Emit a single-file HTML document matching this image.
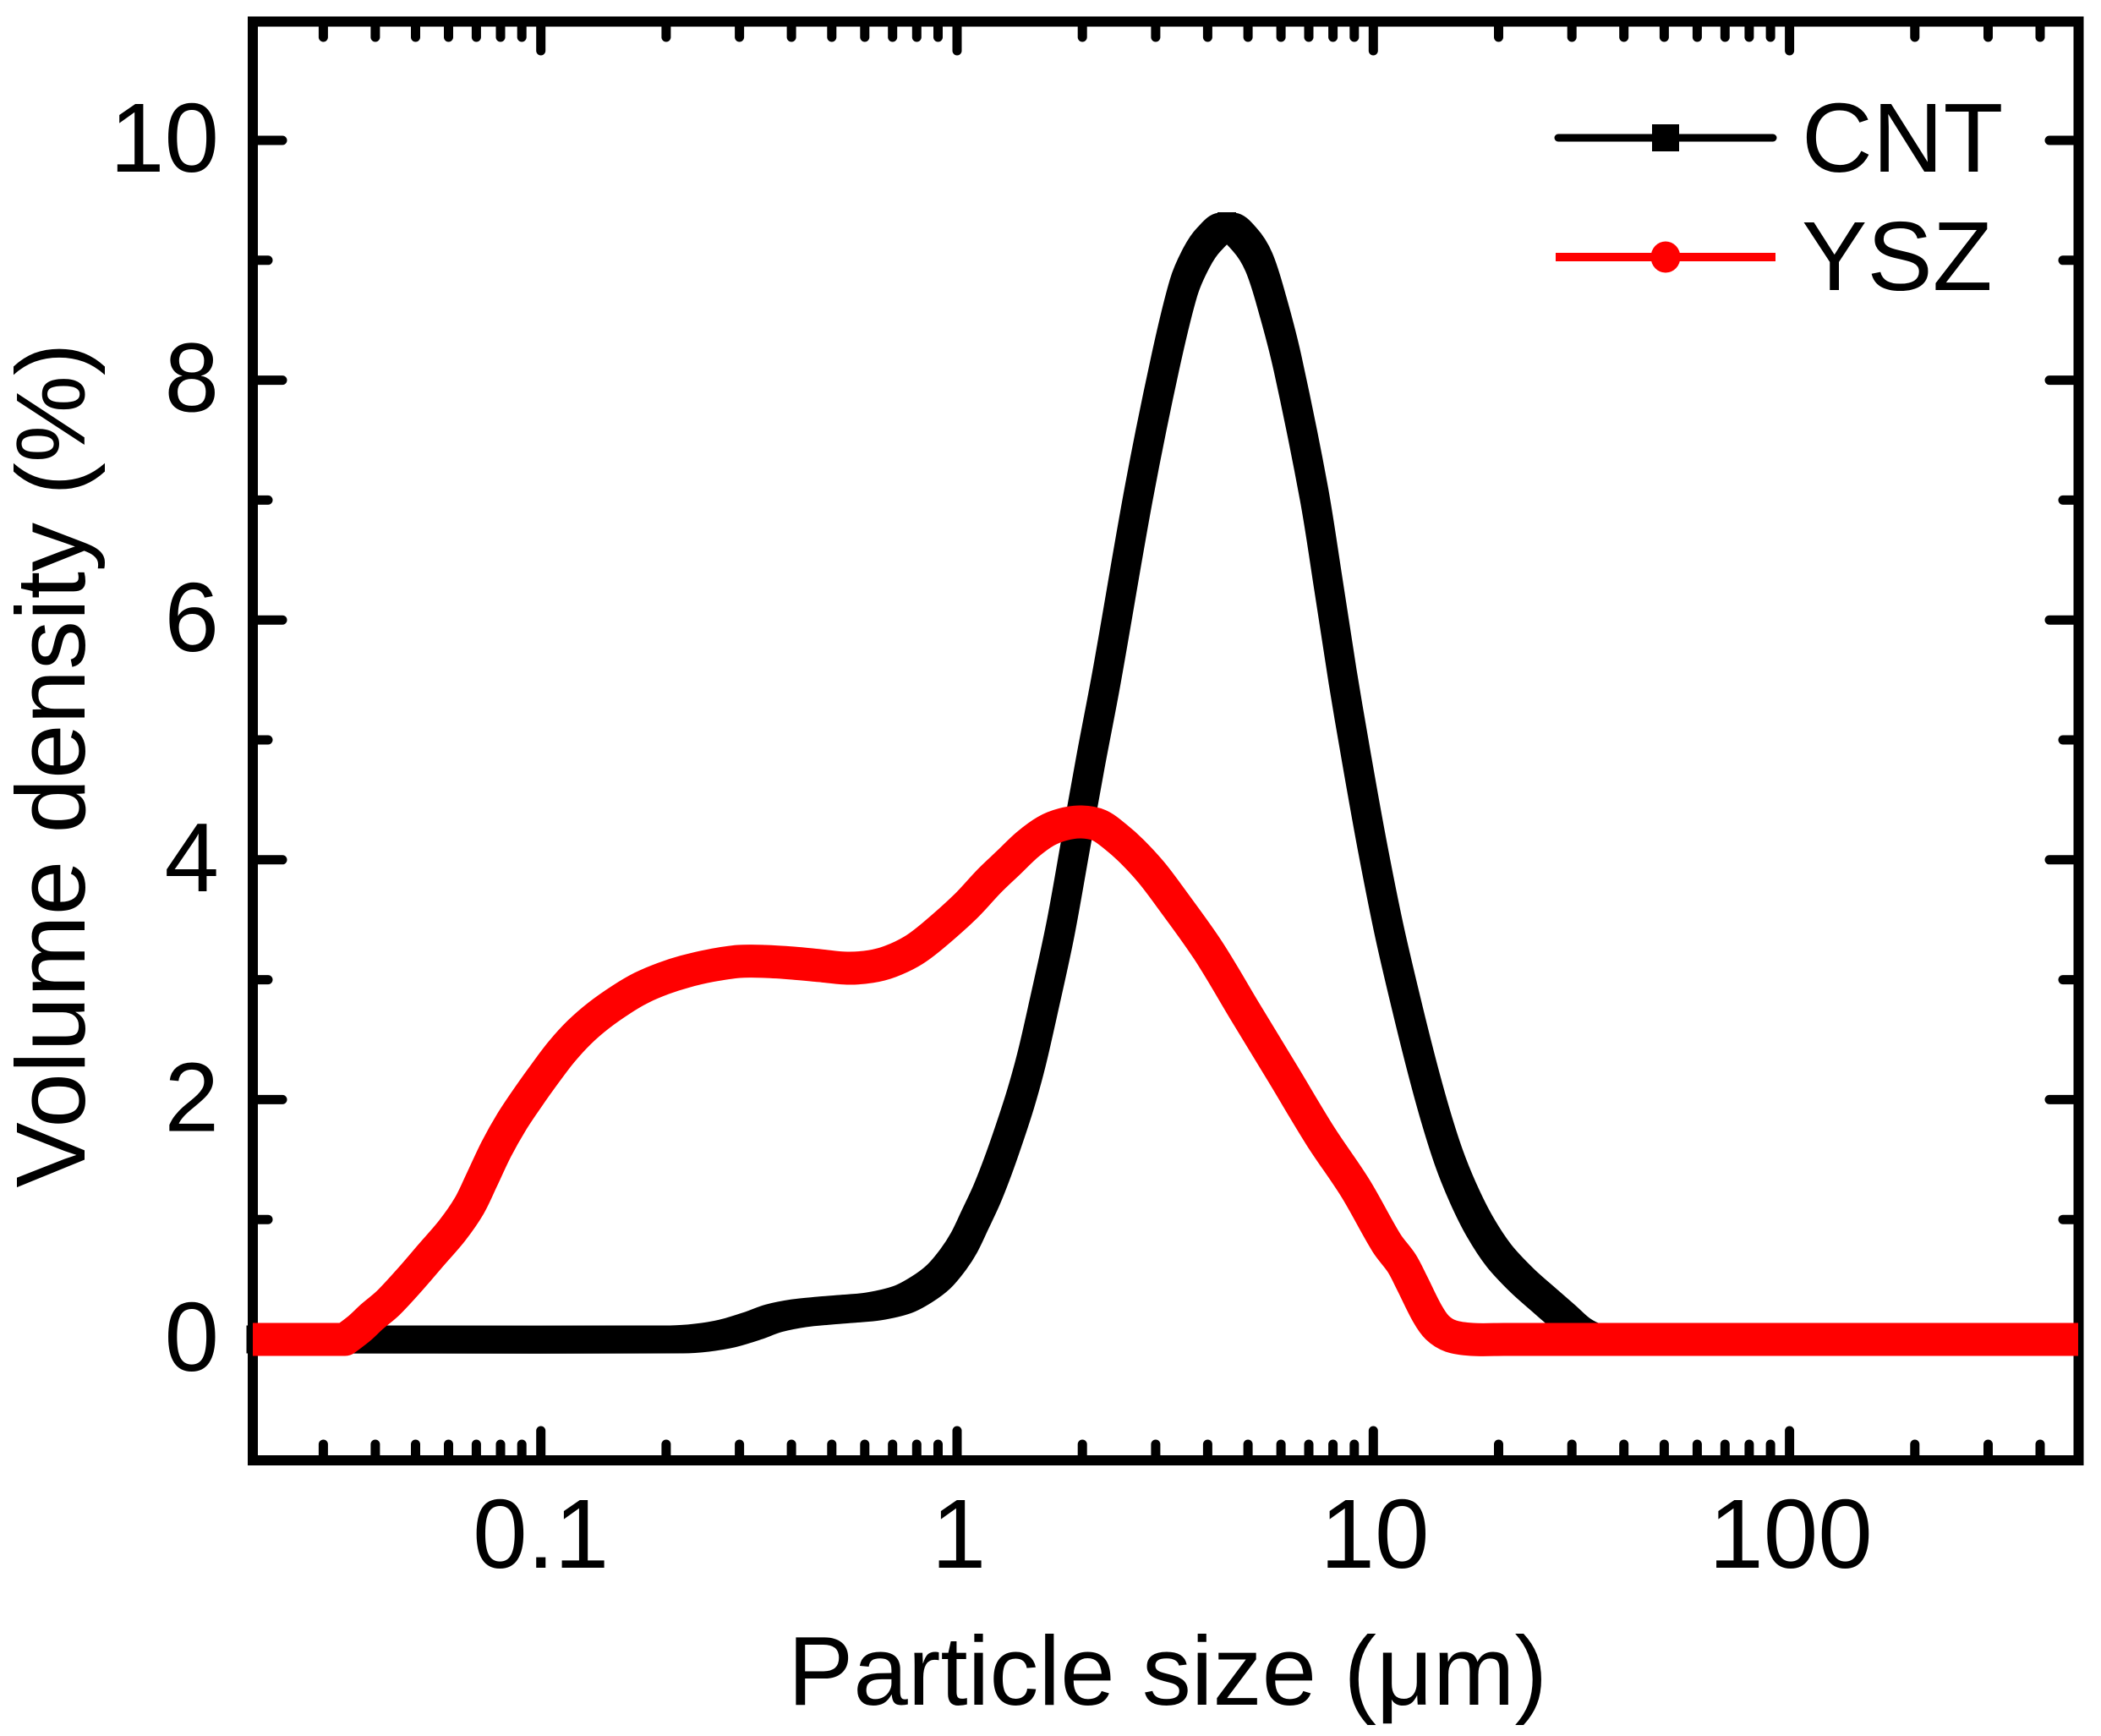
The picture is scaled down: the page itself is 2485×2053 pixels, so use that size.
<!DOCTYPE html>
<html>
<head>
<meta charset="utf-8">
<style>
  html, body { margin: 0; padding: 0; background: #ffffff; }
  svg { display: block; }
  text { font-family: "Liberation Sans", Arial, sans-serif; fill: #000; }
</style>
</head>
<body>
<svg width="2485" height="2053" viewBox="0 0 2485 2053">
  <rect x="0" y="0" width="2485" height="2053" fill="#ffffff"/>

  <!-- Ticks -->
  <g stroke="#000" stroke-width="11" stroke-linecap="round" fill="none">
    <line x1="305" y1="1584" x2="334" y2="1584"/>
    <line x1="305" y1="1300.4" x2="334" y2="1300.4"/>
    <line x1="305" y1="1016.8" x2="334" y2="1016.8"/>
    <line x1="305" y1="733.2" x2="334" y2="733.2"/>
    <line x1="305" y1="449.6" x2="334" y2="449.6"/>
    <line x1="305" y1="166" x2="334" y2="166"/>
    <line x1="305" y1="1442.2" x2="317" y2="1442.2"/>
    <line x1="305" y1="1158.6" x2="317" y2="1158.6"/>
    <line x1="305" y1="875" x2="317" y2="875"/>
    <line x1="305" y1="591.4" x2="317" y2="591.4"/>
    <line x1="305" y1="307.8" x2="317" y2="307.8"/>
    <line x1="2453" y1="1584" x2="2424" y2="1584"/>
    <line x1="2453" y1="1300.4" x2="2424" y2="1300.4"/>
    <line x1="2453" y1="1016.8" x2="2424" y2="1016.8"/>
    <line x1="2453" y1="733.2" x2="2424" y2="733.2"/>
    <line x1="2453" y1="449.6" x2="2424" y2="449.6"/>
    <line x1="2453" y1="166" x2="2424" y2="166"/>
    <line x1="2453" y1="1442.2" x2="2440" y2="1442.2"/>
    <line x1="2453" y1="1158.6" x2="2440" y2="1158.6"/>
    <line x1="2453" y1="875" x2="2440" y2="875"/>
    <line x1="2453" y1="591.4" x2="2440" y2="591.4"/>
    <line x1="2453" y1="307.8" x2="2440" y2="307.8"/>

    <line x1="639.7" y1="1721" x2="639.7" y2="1692"/>
    <line x1="1132" y1="1721" x2="1132" y2="1692"/>
    <line x1="1624.3" y1="1721" x2="1624.3" y2="1692"/>
    <line x1="2116.6" y1="1721" x2="2116.6" y2="1692"/>
    <line x1="639.7" y1="31" x2="639.7" y2="60"/>
    <line x1="1132" y1="31" x2="1132" y2="60"/>
    <line x1="1624.3" y1="31" x2="1624.3" y2="60"/>
    <line x1="2116.6" y1="31" x2="2116.6" y2="60"/>
  </g>

  <g stroke="#000" stroke-width="11" stroke-linecap="round" fill="none">
    <line x1="382.4" y1="1721" x2="382.4" y2="1708"/><line x1="382.4" y1="31" x2="382.4" y2="44"/>
    <line x1="443.9" y1="1721" x2="443.9" y2="1708"/><line x1="443.9" y1="31" x2="443.9" y2="44"/>
    <line x1="491.5" y1="1721" x2="491.5" y2="1708"/><line x1="491.5" y1="31" x2="491.5" y2="44"/>
    <line x1="530.5" y1="1721" x2="530.5" y2="1708"/><line x1="530.5" y1="31" x2="530.5" y2="44"/>
    <line x1="563.4" y1="1721" x2="563.4" y2="1708"/><line x1="563.4" y1="31" x2="563.4" y2="44"/>
    <line x1="592.0" y1="1721" x2="592.0" y2="1708"/><line x1="592.0" y1="31" x2="592.0" y2="44"/>
    <line x1="617.2" y1="1721" x2="617.2" y2="1708"/><line x1="617.2" y1="31" x2="617.2" y2="44"/>
    <line x1="787.9" y1="1721" x2="787.9" y2="1708"/><line x1="787.9" y1="31" x2="787.9" y2="44"/>
    <line x1="874.6" y1="1721" x2="874.6" y2="1708"/><line x1="874.6" y1="31" x2="874.6" y2="44"/>
    <line x1="936.1" y1="1721" x2="936.1" y2="1708"/><line x1="936.1" y1="31" x2="936.1" y2="44"/>
    <line x1="983.8" y1="1721" x2="983.8" y2="1708"/><line x1="983.8" y1="31" x2="983.8" y2="44"/>
    <line x1="1022.8" y1="1721" x2="1022.8" y2="1708"/><line x1="1022.8" y1="31" x2="1022.8" y2="44"/>
    <line x1="1055.7" y1="1721" x2="1055.7" y2="1708"/><line x1="1055.7" y1="31" x2="1055.7" y2="44"/>
    <line x1="1084.3" y1="1721" x2="1084.3" y2="1708"/><line x1="1084.3" y1="31" x2="1084.3" y2="44"/>
    <line x1="1109.5" y1="1721" x2="1109.5" y2="1708"/><line x1="1109.5" y1="31" x2="1109.5" y2="44"/>
    <line x1="1280.2" y1="1721" x2="1280.2" y2="1708"/><line x1="1280.2" y1="31" x2="1280.2" y2="44"/>
    <line x1="1366.9" y1="1721" x2="1366.9" y2="1708"/><line x1="1366.9" y1="31" x2="1366.9" y2="44"/>
    <line x1="1428.4" y1="1721" x2="1428.4" y2="1708"/><line x1="1428.4" y1="31" x2="1428.4" y2="44"/>
    <line x1="1476.1" y1="1721" x2="1476.1" y2="1708"/><line x1="1476.1" y1="31" x2="1476.1" y2="44"/>
    <line x1="1515.1" y1="1721" x2="1515.1" y2="1708"/><line x1="1515.1" y1="31" x2="1515.1" y2="44"/>
    <line x1="1548.0" y1="1721" x2="1548.0" y2="1708"/><line x1="1548.0" y1="31" x2="1548.0" y2="44"/>
    <line x1="1576.6" y1="1721" x2="1576.6" y2="1708"/><line x1="1576.6" y1="31" x2="1576.6" y2="44"/>
    <line x1="1601.8" y1="1721" x2="1601.8" y2="1708"/><line x1="1601.8" y1="31" x2="1601.8" y2="44"/>
    <line x1="1772.5" y1="1721" x2="1772.5" y2="1708"/><line x1="1772.5" y1="31" x2="1772.5" y2="44"/>
    <line x1="1859.2" y1="1721" x2="1859.2" y2="1708"/><line x1="1859.2" y1="31" x2="1859.2" y2="44"/>
    <line x1="1920.7" y1="1721" x2="1920.7" y2="1708"/><line x1="1920.7" y1="31" x2="1920.7" y2="44"/>
    <line x1="1968.4" y1="1721" x2="1968.4" y2="1708"/><line x1="1968.4" y1="31" x2="1968.4" y2="44"/>
    <line x1="2007.4" y1="1721" x2="2007.4" y2="1708"/><line x1="2007.4" y1="31" x2="2007.4" y2="44"/>
    <line x1="2040.3" y1="1721" x2="2040.3" y2="1708"/><line x1="2040.3" y1="31" x2="2040.3" y2="44"/>
    <line x1="2068.9" y1="1721" x2="2068.9" y2="1708"/><line x1="2068.9" y1="31" x2="2068.9" y2="44"/>
    <line x1="2094.1" y1="1721" x2="2094.1" y2="1708"/><line x1="2094.1" y1="31" x2="2094.1" y2="44"/>
    <line x1="2264.8" y1="1721" x2="2264.8" y2="1708"/><line x1="2264.8" y1="31" x2="2264.8" y2="44"/>
    <line x1="2351.5" y1="1721" x2="2351.5" y2="1708"/><line x1="2351.5" y1="31" x2="2351.5" y2="44"/>
    <line x1="2413.0" y1="1721" x2="2413.0" y2="1708"/><line x1="2413.0" y1="31" x2="2413.0" y2="44"/>
  </g>

  <!-- Axes frame -->
  <rect x="299" y="25.5" width="2159.5" height="1701.5" fill="none" stroke="#000" stroke-width="12"/>

  <!-- CNT series (black) – square-pen emulation via offset copies -->
  <g fill="none" stroke="#000" stroke-width="18" stroke-linejoin="round" stroke-linecap="butt">
    <polyline class="smooth" transform="translate(-7.5,-7.5)" points="299,1584 800,1584 830,1582 860,1577 890,1568 915,1559 945,1553 975,1550 1000,1548 1033,1545 1067,1537 1090,1525 1110,1510 1127,1490 1140,1470 1153,1443 1167,1413 1180,1380 1193,1343 1207,1300 1220,1253 1234,1192 1254,1100 1272,1000 1290,900 1309,800 1347,583 1378,430 1400,340 1415,305 1430,283 1451,268 1472,283 1489,310 1505,360 1523,430 1554,583 1571,690 1588,800 1605,900 1623,1000 1643,1100 1664,1190 1682,1262 1698,1320 1714,1370 1731,1412 1750,1450 1773,1485 1800,1514 1827,1538 1850,1558 1868,1574 1885,1582 1910,1584 1960,1584 2450,1584"/>
    <polyline class="smooth" transform="translate(7.5,-7.5)" points="299,1584 800,1584 830,1582 860,1577 890,1568 915,1559 945,1553 975,1550 1000,1548 1033,1545 1067,1537 1090,1525 1110,1510 1127,1490 1140,1470 1153,1443 1167,1413 1180,1380 1193,1343 1207,1300 1220,1253 1234,1192 1254,1100 1272,1000 1290,900 1309,800 1347,583 1378,430 1400,340 1415,305 1430,283 1451,268 1472,283 1489,310 1505,360 1523,430 1554,583 1571,690 1588,800 1605,900 1623,1000 1643,1100 1664,1190 1682,1262 1698,1320 1714,1370 1731,1412 1750,1450 1773,1485 1800,1514 1827,1538 1850,1558 1868,1574 1885,1582 1910,1584 1960,1584 2450,1584"/>
    <polyline class="smooth" transform="translate(-7.5,7.5)" points="299,1584 800,1584 830,1582 860,1577 890,1568 915,1559 945,1553 975,1550 1000,1548 1033,1545 1067,1537 1090,1525 1110,1510 1127,1490 1140,1470 1153,1443 1167,1413 1180,1380 1193,1343 1207,1300 1220,1253 1234,1192 1254,1100 1272,1000 1290,900 1309,800 1347,583 1378,430 1400,340 1415,305 1430,283 1451,268 1472,283 1489,310 1505,360 1523,430 1554,583 1571,690 1588,800 1605,900 1623,1000 1643,1100 1664,1190 1682,1262 1698,1320 1714,1370 1731,1412 1750,1450 1773,1485 1800,1514 1827,1538 1850,1558 1868,1574 1885,1582 1910,1584 1960,1584 2450,1584"/>
    <polyline class="smooth" transform="translate(7.5,7.5)" points="299,1584 800,1584 830,1582 860,1577 890,1568 915,1559 945,1553 975,1550 1000,1548 1033,1545 1067,1537 1090,1525 1110,1510 1127,1490 1140,1470 1153,1443 1167,1413 1180,1380 1193,1343 1207,1300 1220,1253 1234,1192 1254,1100 1272,1000 1290,900 1309,800 1347,583 1378,430 1400,340 1415,305 1430,283 1451,268 1472,283 1489,310 1505,360 1523,430 1554,583 1571,690 1588,800 1605,900 1623,1000 1643,1100 1664,1190 1682,1262 1698,1320 1714,1370 1731,1412 1750,1450 1773,1485 1800,1514 1827,1538 1850,1558 1868,1574 1885,1582 1910,1584 1960,1584 2450,1584"/>
    <polyline class="smooth" stroke-width="24" points="299,1584 800,1584 830,1582 860,1577 890,1568 915,1559 945,1553 975,1550 1000,1548 1033,1545 1067,1537 1090,1525 1110,1510 1127,1490 1140,1470 1153,1443 1167,1413 1180,1380 1193,1343 1207,1300 1220,1253 1234,1192 1254,1100 1272,1000 1290,900 1309,800 1347,583 1378,430 1400,340 1415,305 1430,283 1451,268 1472,283 1489,310 1505,360 1523,430 1554,583 1571,690 1588,800 1605,900 1623,1000 1643,1100 1664,1190 1682,1262 1698,1320 1714,1370 1731,1412 1750,1450 1773,1485 1800,1514 1827,1538 1850,1558 1868,1574 1885,1582 1910,1584 1960,1584 2450,1584"/>
  </g>
  <rect x="1440" y="251" width="22" height="22" fill="#000"/>

  <!-- YSZ series (red) -->
  <polyline class="smooth" fill="none" stroke="#ff0000" stroke-width="39" stroke-linejoin="round" stroke-linecap="butt"
    points="299,1584 350,1584 408,1584 408,1584 425,1571 440,1557 459,1541 485,1513 510,1484 535,1455 555,1426 570,1395 587,1359 605,1327 625,1297 645,1269 664,1244 685,1221 708,1201 735,1182 759,1168 785,1157 810,1149 840,1142 874,1137 905,1137 938,1139 970,1142 1002,1145 1030,1143 1053,1137 1080,1124 1104,1106 1142,1072 1170,1042 1193,1020 1215,999 1237,983 1257,975 1279,972 1300,976 1320,990 1339,1007 1362,1032 1384,1061 1429,1124 1473,1197 1518,1271 1562,1344 1603,1405 1640,1470 1658,1494 1670,1517 1688,1553 1700,1570 1716,1580 1741,1584 1780,1584 1850,1584 2458,1584"/>

  <!-- Y tick labels -->
  <g font-size="116" text-anchor="end">
    <text x="259" y="1621">0</text>
    <text x="259" y="1337.4">2</text>
    <text x="259" y="1053.8">4</text>
    <text x="259" y="770.2">6</text>
    <text x="259" y="486.6">8</text>
    <text x="259" y="203">10</text>
  </g>

  <!-- X tick labels -->
  <g font-size="116" text-anchor="middle">
    <text x="639.7" y="1854">0.1</text>
    <text x="1134" y="1854">1</text>
    <text x="1626" y="1854">10</text>
    <text x="2118" y="1854">100</text>
  </g>

  <!-- Axis titles -->
  <text x="1381" y="2016" font-size="116" text-anchor="middle">Particle size (μm)</text>
  <text transform="translate(100,905) rotate(-90)" font-size="116" text-anchor="middle">Volume density (%)</text>

  <!-- Legend -->
  <line x1="1843" y1="163" x2="2097" y2="163" stroke="#000" stroke-width="9" stroke-linecap="round"/>
  <rect x="1954" y="147" width="32" height="32" fill="#000"/>
  <text x="2131" y="203" font-size="116">CNT</text>

  <line x1="1840" y1="304" x2="2100" y2="304" stroke="#ff0000" stroke-width="10"/>
  <ellipse cx="1970" cy="304" rx="17.5" ry="18.5" fill="#ff0000"/>
  <text x="2131" y="343" font-size="116">YSZ</text>
</svg>
<script>
(function(){
  var list = document.querySelectorAll('polyline.smooth');
  for (var k = 0; k < list.length; k++) {
    var pl = list[k];
    var raw = pl.getAttribute('points').trim().split(/\s+/).map(function(s){
      var a = s.split(','); return [parseFloat(a[0]), parseFloat(a[1])];
    });
    function nrm(a, b){
      var dx = b[0]-a[0], dy = b[1]-a[1], l = Math.sqrt(dx*dx+dy*dy) || 1;
      return [dx/l, dy/l];
    }
    var d = 'M' + raw[0][0] + ',' + raw[0][1];
    for (var i = 0; i < raw.length-1; i++) {
      var p0 = raw[i-1] || raw[i], p1 = raw[i], p2 = raw[i+1], p3 = raw[i+2] || raw[i+1];
      var L = Math.sqrt((p2[0]-p1[0])*(p2[0]-p1[0]) + (p2[1]-p1[1])*(p2[1]-p1[1])) / 3;
      var t1 = nrm(p0, p2), t2 = nrm(p1, p3);
      d += ' C' + (p1[0]+t1[0]*L).toFixed(2) + ',' + (p1[1]+t1[1]*L).toFixed(2) + ' ' +
           (p2[0]-t2[0]*L).toFixed(2) + ',' + (p2[1]-t2[1]*L).toFixed(2) + ' ' + p2[0] + ',' + p2[1];
    }
    var p = document.createElementNS(pl.namespaceURI, 'path');
    for (var j = 0; j < pl.attributes.length; j++) {
      var at = pl.attributes[j];
      if (at.name !== 'points' && at.name !== 'class') p.setAttribute(at.name, at.value);
    }
    p.setAttribute('d', d);
    pl.parentNode.replaceChild(p, pl);
  }
})();
</script>
</body>
</html>
